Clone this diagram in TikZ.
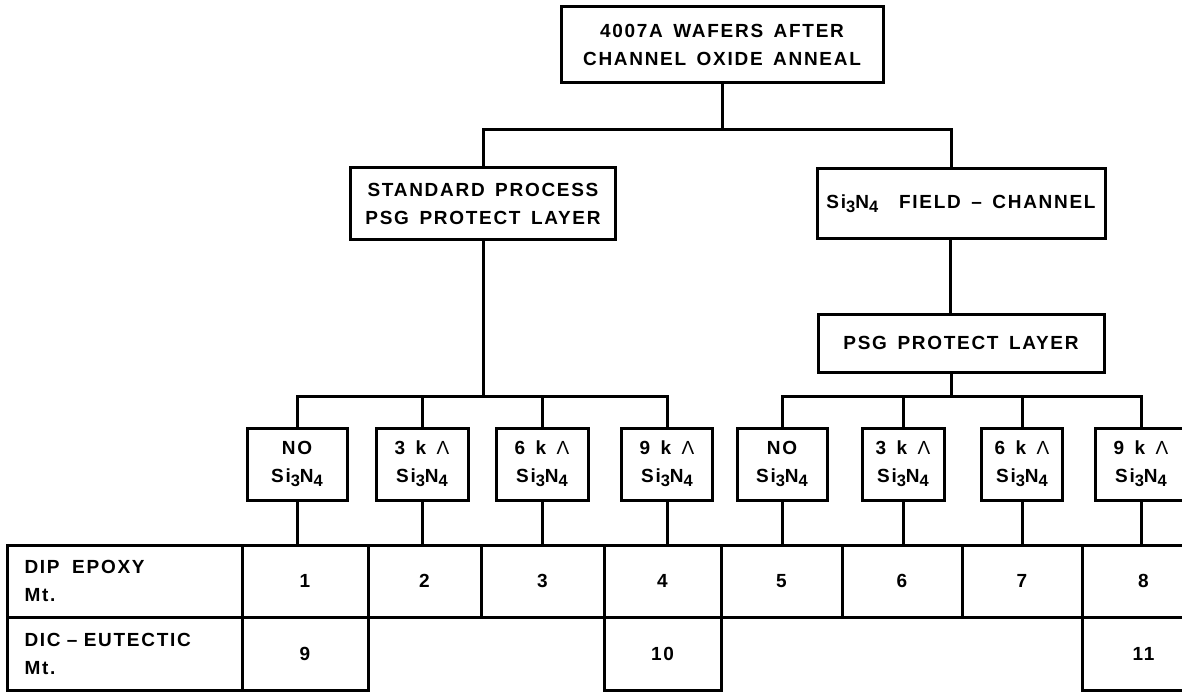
\documentclass[tikz,border=0pt]{standalone}
\usepackage{fontspec}
\setmainfont[LetterSpace=9,WordSpace=1.5]{Liberation Sans}
\newcommand{\lsub}[1]{\raisebox{-0.4ex}{\fontsize{16.5}{16.5}\selectfont #1}}
\newcommand{\SiN}{Si\lsub{3}N\lsub{4}}
\newcommand{\kA}{k {\mdseries Λ}}
\begin{document}
\begin{tikzpicture}[x=1pt,y=-1pt,line width=3pt,
  every node/.style={font=\fontsize{19}{28}\selectfont\bfseries},
  box/.style={draw, rectangle, inner sep=0pt, align=center, line width=3pt},
  smallbox/.style={box, minimum height=72pt},
  cell/.style={draw, rectangle, inner sep=0pt, align=center, line width=3pt},
  labcell/.style={cell, minimum width=235pt, text width=200pt, align=left},
  wire/.style={draw, line width=3pt}]
\useasboundingbox (0,0) rectangle (1182,692);

% main boxes
\node[box, minimum width=322pt, minimum height=76pt] (top) at (722,45) {4007A WAFERS AFTER\\CHANNEL OXIDE ANNEAL};
\node[box, minimum width=265pt, minimum height=72pt] (std) at (483,204) {STANDARD PROCESS\\PSG PROTECT LAYER};
\node[box, minimum width=288pt, minimum height=70pt] (field) at (961,203.5) {\SiN\ \ FIELD -- CHANNEL};
\node[box, minimum width=286pt, minimum height=58pt] (psg) at (961,343) {PSG PROTECT LAYER};

% small boxes
\node[smallbox, minimum width=100pt] (b1) at (297,464) {NO\\\SiN};
\node[smallbox, minimum width=92pt] (b2) at (422,464) {3 \kA\\\SiN};
\node[smallbox, minimum width=92pt] (b3) at (542,464) {6 \kA\\\SiN};
\node[smallbox, minimum width=91pt] (b4) at (667,464) {9 \kA\\\SiN};
\node[smallbox, minimum width=90pt] (b5) at (782,464) {NO\\\SiN};
\node[smallbox, minimum width=82pt] (b6) at (903,464) {3 \kA\\\SiN};
\node[smallbox, minimum width=81pt] (b7) at (1022,464) {6 \kA\\\SiN};
\node[smallbox, minimum width=92pt] (b8) at (1141,464) {9 \kA\\\SiN};

% table row 1
\node[labcell, minimum height=72pt] (l1) at (124.5,581) {DIP\ \ EPOXY\\Mt.};
\node[cell, minimum width=126pt, minimum height=72pt] (c1) at (305,581) {1};
\node[cell, minimum width=113pt, minimum height=72pt] (c2) at (424.5,581) {2};
\node[cell, minimum width=123pt, minimum height=72pt] (c3) at (542.5,581) {3};
\node[cell, minimum width=117pt, minimum height=72pt] (c4) at (662.5,581) {4};
\node[cell, minimum width=121pt, minimum height=72pt] (c5) at (781.5,581) {5};
\node[cell, minimum width=120pt, minimum height=72pt] (c6) at (902,581) {6};
\node[cell, minimum width=120pt, minimum height=72pt] (c7) at (1022,581) {7};
\node[cell, minimum width=123pt, minimum height=72pt] (c8) at (1143.5,581) {8};
% table row 2
\node[labcell, minimum height=73pt] (l2) at (124.5,653.5) {DIC -- EUTECTIC\\Mt.};
\node[cell, minimum width=126pt, minimum height=73pt] (c9) at (305,653.5) {9};
\node[cell, minimum width=117pt, minimum height=73pt] (c10) at (662.5,653.5) {10};
\node[cell, minimum width=123pt, minimum height=73pt] (c11) at (1143.5,653.5) {11};

% junctions
\coordinate (j0) at (722,130);
\coordinate (jL) at (483,396);
\coordinate (jR) at (951,396);

% connectors top level
\draw[wire] (top.south) -- (j0);
\draw[wire] (std.north) |- (j0) -| ([xshift=-10pt]field.north);
\draw[wire] ([xshift=-11pt]field.south) -- ([xshift=-11pt]psg.north);
\draw[wire] ([xshift=-10pt]psg.south) -- (jR);
\draw[wire] (std.south) -- (jL);

% buses
\draw[wire] (b1.north) |- (jL) -| (b4.north);
\draw[wire] (b2.north) -- (b2.north |- jL);
\draw[wire] (b3.north) -- (b3.north |- jL);
\draw[wire] (b5.north) |- (jR) -| (b8.north);
\draw[wire] (b6.north) -- (b6.north |- jR);
\draw[wire] (b7.north) -- (b7.north |- jR);

% to table
\foreach \i/\c in {b1/c1,b2/c2,b3/c3,b4/c4,b5/c5,b6/c6,b7/c7,b8/c8}
  \draw[wire] (\i.south) -- (\i.south |- \c.north);
\end{tikzpicture}
\end{document}
